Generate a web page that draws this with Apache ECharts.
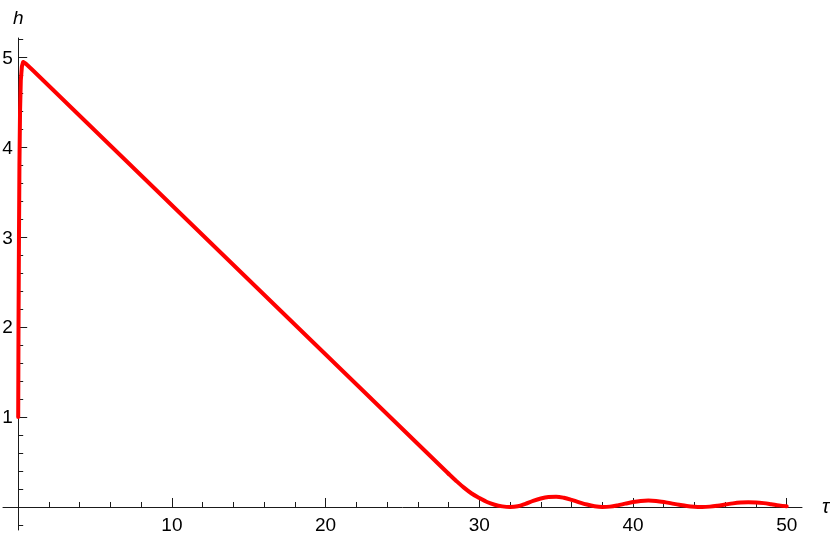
<!DOCTYPE html>
<html>
<head>
<meta charset="utf-8">
<script src="https://cdn.jsdelivr.net/npm/echarts@6/dist/echarts.min.js"></script>
<style>
html,body{margin:0;padding:0;background:#fff;}
#chart{width:830px;height:538px;}
</style>
</head>
<body>
<div id="chart"></div>
<script>
// Data
// steep rise and straight decline
var tauMain = [0, 0.02, 0.05, 0.08, 0.12, 0.17, 0.24, 0.32, 0.4, 0.5, 1, 28];
var hMain   = [1, 2.0, 3.0, 3.8, 4.4, 4.75, 4.9, 4.95, 4.95, 4.93, 4.85, 0.37];
// damped ripples near zero
var tauTail = [28, 28.5, 29, 29.5, 30, 30.5, 31, 31.5, 32, 32.5, 33, 33.5, 34, 34.5, 35, 35.5, 36, 36.5, 37, 37.5, 38, 38.5, 39, 39.5, 40, 40.5, 41, 41.5, 42, 42.5, 43, 43.5, 44, 44.5, 45, 45.5, 46, 46.5, 47, 47.5, 48, 48.5, 49, 49.5, 50];
var hTail   = [0.37, 0.29, 0.215, 0.15, 0.10, 0.055, 0.025, 0.007, 0.0, 0.008, 0.035, 0.068, 0.095, 0.112, 0.115, 0.103, 0.08, 0.052, 0.027, 0.009, 0.001, 0.004, 0.018, 0.037, 0.055, 0.067, 0.071, 0.067, 0.056, 0.04, 0.024, 0.01, 0.002, 0.0, 0.004, 0.014, 0.027, 0.04, 0.049, 0.053, 0.051, 0.043, 0.031, 0.018, 0.008];

var xMajorTicks = [10, 20, 30, 40, 50];
var xMinorTicks = [2, 4, 6, 8, 12, 14, 16, 18, 22, 24, 26, 28, 32, 34, 36, 38, 42, 44, 46, 48];
var yMajorTicks = [1, 2, 3, 4, 5];
var yMinorTicks = [-0.2, 0.2, 0.4, 0.6, 0.8, 1.2, 1.4, 1.6, 1.8, 2.2, 2.4, 2.6, 2.8, 3.2, 3.4, 3.6, 3.8, 4.2, 4.4, 4.6, 4.8, 5.2];
var xLabels = ['10', '20', '30', '40', '50'];
var yLabels = ['1', '2', '3', '4', '5'];

var xRange = [-0.989, 50.995];
var yRange = [-0.256, 5.217];

function pairs(xs, ys) { return xs.map(function (x, i) { return [x, ys[i]]; }); }

var axisColor = '#1a1a1a';
var fontFam = 'Liberation Sans, Arial, sans-serif';
var labelSize = 19;
var redLine = { color: '#ff0000', width: 4, cap: 'round', join: 'round' };

var chart = echarts.init(document.getElementById('chart'), null, { renderer: 'canvas' });
chart.setOption({
  animation: false,
  backgroundColor: '#fff',
  grid: { left: 3, right: 28, top: 38, bottom: 8, containLabel: false, outerBoundsMode: 'none' },
  xAxis: [
    {
      type: 'value', min: xRange[0], max: xRange[1], position: 'bottom',
      axisLine: { show: true, onZero: true, onZeroAxisIndex: 0, lineStyle: { color: axisColor, width: 1 } },
      axisTick: { show: true, inside: true, length: 5, customValues: xMinorTicks, lineStyle: { color: axisColor, width: 1 } },
      axisLabel: { show: false },
      splitLine: { show: false },
      name: 'τ', nameLocation: 'end', nameGap: 20,
      nameTextStyle: { color: '#000', fontFamily: fontFam, fontSize: 20, fontStyle: 'italic', verticalAlign: 'middle' }
    },
    {
      type: 'value', min: xRange[0], max: xRange[1], position: 'bottom',
      axisLine: { show: false, onZero: true, onZeroAxisIndex: 0 },
      axisTick: { show: true, inside: true, length: 9, customValues: xMajorTicks, lineStyle: { color: axisColor, width: 1 } },
      axisLabel: { show: false },
      splitLine: { show: false }
    }
  ],
  yAxis: [
    {
      type: 'value', min: yRange[0], max: yRange[1], position: 'left',
      axisLine: { show: true, onZero: true, onZeroAxisIndex: 0, lineStyle: { color: axisColor, width: 1 } },
      axisTick: { show: true, inside: true, length: 5, customValues: yMinorTicks, lineStyle: { color: axisColor, width: 1 } },
      axisLabel: { show: false },
      splitLine: { show: false },
      name: 'h', nameLocation: 'end', nameGap: 10,
      nameTextStyle: { color: '#000', fontFamily: fontFam, fontSize: 19, fontStyle: 'italic', align: 'center' }
    },
    {
      type: 'value', min: yRange[0], max: yRange[1], position: 'left',
      axisLine: { show: false, onZero: true, onZeroAxisIndex: 0 },
      axisTick: { show: true, inside: true, length: 9, customValues: yMajorTicks, lineStyle: { color: axisColor, width: 1 } },
      axisLabel: { show: false },
      splitLine: { show: false }
    }
  ],
  series: [
    {
      type: 'line', xAxisIndex: 0, yAxisIndex: 0,
      data: pairs(tauMain, hMain),
      showSymbol: false, symbol: 'none', smooth: false,
      lineStyle: redLine, clip: false
    },
    {
      type: 'line', xAxisIndex: 0, yAxisIndex: 0,
      data: pairs(tauTail, hTail),
      showSymbol: false, symbol: 'none', smooth: 0.35,
      lineStyle: redLine, clip: false
    }
  ]
});

// Tick labels placed through the chart's own axis scales
var tickText = [];
xMajorTicks.forEach(function (v, i) {
  var p = chart.convertToPixel({ gridIndex: 0 }, [v, 0]);
  tickText.push({
    type: 'text', x: p[0], y: p[1] + 19, silent: true,
    style: { text: xLabels[i], fill: '#000', fontFamily: fontFam, fontSize: labelSize, align: 'center', verticalAlign: 'middle' }
  });
});
yMajorTicks.forEach(function (v, i) {
  var p = chart.convertToPixel({ gridIndex: 0 }, [0, v]);
  tickText.push({
    type: 'text', x: p[0] - 5.5, y: p[1] + 1, silent: true,
    style: { text: yLabels[i], fill: '#000', fontFamily: fontFam, fontSize: labelSize, align: 'right', verticalAlign: 'middle' }
  });
});
chart.setOption({ graphic: tickText });
</script>
</body>
</html>
